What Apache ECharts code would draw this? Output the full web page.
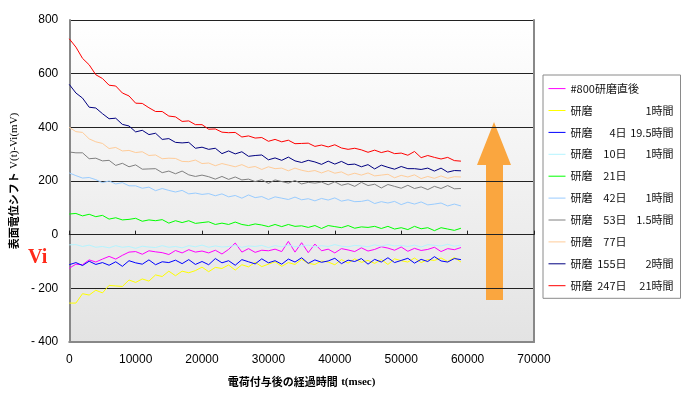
<!DOCTYPE html>
<html>
<head>
<meta charset="utf-8">
<script src="https://cdn.jsdelivr.net/npm/echarts@6/dist/echarts.min.js"></script>
<style>
html,body{margin:0;padding:0;background:#fff;}
#chart{width:684px;height:393px;}
</style>
</head>
<body>
<div id="chart"></div>
<script>
// time axis (msec)
const times = [0,1000,2000,3000,4000,5000,6000,7000,8000,9000,
  10000,11000,12000,13000,14000,15000,16000,17000,18000,19000,
  20000,21000,22000,23000,24000,25000,26000,27000,28000,29000,
  30000,31000,32000,33000,34000,35000,36000,37000,38000,39000,
  40000,41000,42000,43000,44000,45000,46000,47000,48000,49000,
  50000,51000,52000,53000,54000,55000,56000,57000,58000,59000];

// legend label parts: [prefix, days, hours]
const labelMain = ['#800研磨直後','研磨','研磨','研磨','研磨','研磨','研磨','研磨','研磨','研磨'];
const labelDays = ['','','4日','10日','21日','42日','53日','77日','155日','247日'];
const labelHours = ['','1時間','19.5時間','1時間','','1時間','1.5時間','','2時間','21時間'];
const lineColors = ['#ff00ff','#ffff00','#0000ff','#b4f4ff','#00ff00','#99ccff','#808080','#ffcc99','#000080','#ff0000'];

const xTicks = [0,10000,20000,30000,40000,50000,60000,70000];
const yTicks = [-400,-200,0,200,400,600,800];

// series values (mV)
const s800 = [-125,-110,-112,-94,-102,-91,-81,-91,-77,-65,
  -63,-73,-60,-64,-67,-74,-59,-68,-56,-65,
  -61,-68,-58,-72,-55,-31,-65,-52,-66,-58,
  -60,-54,-63,-25,-65,-30,-67,-35,-60,-54,
  -68,-52,-57,-63,-49,-61,-55,-45,-50,-58,
  -46,-62,-51,-59,-55,-47,-63,-52,-56,-48];
const s1h = [-255,-255,-220,-225,-207,-217,-189,-191,-193,-169,
  -178,-165,-173,-150,-156,-136,-153,-136,-142,-134,
  -121,-138,-122,-126,-113,-132,-112,-120,-103,-119,
  -110,-101,-118,-104,-111,-92,-107,-111,-98,-102,
  -112,-93,-106,-90,-103,-96,-107,-93,-111,-90,
  -97,-102,-87,-104,-93,-96,-87,-100,-85,-102];
const s4d = [-112,-104,-115,-99,-111,-104,-114,-101,-118,-97,
  -105,-110,-94,-112,-101,-104,-95,-108,-93,-111,
  -100,-112,-89,-105,-97,-114,-93,-101,-109,-90,
  -105,-97,-110,-91,-102,-86,-107,-94,-103,-98,
  -88,-108,-95,-100,-89,-110,-92,-102,-86,-104,
  -96,-88,-106,-92,-100,-82,-98,-102,-89,-93];
const s10d = [-38,-37,-44,-39,-47,-44,-49,-41,-47,-44,
  -51,-43,-46,-48,-41,-47,-44,-49,-41,-45,
  -39,-47,-42,-46,-44,-40,-47,-42,-44,-40,
  -48,-41,-45,-39,-45,-42,-39,-46,-41,-44,
  -37,-43,-45,-40,-42,-45,-38,-43,-37,-42,
  -40,-44,-39,-46,-37,-40,-42,-36,-43,-39];
const s21d = [77,79,70,76,67,72,58,63,55,57,
  61,50,55,52,56,43,52,45,52,42,
  45,48,38,43,38,47,38,34,40,36,
  30,38,30,38,31,33,27,34,23,34,
  30,26,34,24,29,27,31,23,31,21,
  26,19,31,22,26,15,26,21,16,24];
const s42d = [230,220,211,213,205,194,200,189,194,182,
  182,173,177,164,172,165,159,165,152,155,
  150,153,145,152,141,146,136,148,138,142,
  131,141,136,131,140,130,134,126,135,129,
  137,125,130,123,124,129,116,123,118,124,
  112,121,114,122,111,114,118,107,114,107];
const s53d = [308,305,305,283,285,275,277,258,266,253,
  260,244,245,246,231,237,227,237,223,217,
  222,216,207,217,206,215,204,207,198,205,
  191,204,198,192,202,189,195,192,196,186,
  197,184,190,180,195,183,188,174,187,180,
  173,184,172,178,168,180,172,183,171,172];
const s77d = [400,384,381,357,346,340,321,325,312,314,
  306,309,295,297,283,285,284,273,272,278,
  265,267,257,265,259,253,261,250,254,243,
  253,246,248,238,248,240,235,239,230,239,
  229,234,222,229,222,230,219,222,225,212,
  221,215,223,209,217,210,219,210,216,215];
const s155d = [560,528,509,475,472,451,432,434,411,405,
  383,389,373,378,355,358,344,342,344,322,
  326,318,322,302,312,301,309,292,295,297,
  279,286,277,289,275,269,277,271,262,274,
  263,273,261,263,253,261,245,259,251,244,
  254,246,246,243,248,237,248,233,239,238];
const s247d = [730,699,657,633,596,582,557,554,528,517,
  490,489,473,459,459,442,439,422,424,410,
  410,393,394,382,380,381,364,368,360,362,
  348,355,346,352,339,340,341,329,334,327,
  335,323,318,322,316,307,315,306,312,302,
  304,296,310,287,295,288,282,288,276,274];

const allValues = [s800,s1h,s4d,s10d,s21d,s42d,s53d,s77d,s155d,s247d];
const names = labelMain.map((m,i)=> [m,labelDays[i],labelHours[i]].filter(Boolean).join(' '));

const chart = echarts.init(document.getElementById('chart'), null, {renderer:'canvas'});

const series = allValues.map((vals,i)=>({
  name: names[i],
  type: 'line',
  xAxisIndex: 0,
  yAxisIndex: 0,
  symbol: 'none',
  showSymbol: false,
  silent: true,
  lineStyle: {color: lineColors[i], width: 1},
  itemStyle: {color: lineColors[i]},
  data: times.map((t,k)=>[t, vals[k]])
}));

const jp = 'Noto Sans CJK JP';

chart.setOption({
  animation: false,
  backgroundColor: '#ffffff',
  grid: {
    left: 62, top: 20, right: 150, bottom: 51,
    show: true, borderWidth: 0,
    backgroundColor: new echarts.graphic.LinearGradient(0,0,0,1,[
      {offset:0,color:'#ffffff'},{offset:1,color:'#e3e3e3'}])
  },
  legend: {
    orient: 'vertical',
    left: 543, top: 75,
    padding: [8,7,7,5],
    itemWidth: 17, itemHeight: 14, itemGap: 10.7,
    backgroundColor: '#ffffff',
    borderColor: '#8a8a8a', borderWidth: 1,
    itemStyle: {opacity: 0, color: 'transparent', borderWidth: 0},
    lineStyle: {width: 1},
    data: names,
    formatter: function(name){
      const i = names.indexOf(name);
      if (i === 0) return '{w|' + labelMain[i] + '}';
      return '{a|' + labelMain[i] + '}{b|' + labelDays[i] + '}{c|' + labelHours[i] + '}';
    },
    textStyle: {
      fontFamily: jp, fontSize: 11, color: '#111',
      rich: {
        w: {fontFamily: jp, fontSize: 11, color:'#111'},
        a: {fontFamily: jp, fontSize: 11, color:'#111', width: 24},
        b: {fontFamily: jp, fontSize: 11, color:'#111', width: 32, align: 'right'},
        c: {fontFamily: jp, fontSize: 11, color:'#111', width: 47, align: 'right'}
      }
    }
  },
  xAxis: [{
    type: 'value',
    min: xTicks[0], max: xTicks[xTicks.length-1], interval: 10000,
    position: 'bottom',
    axisLine: {show: true, onZero: false, lineStyle: {color: '#888', width: 2}},
    axisTick: {show: false},
    splitLine: {show: false},
    axisLabel: {margin: 12, color: '#000', fontFamily: 'Liberation Sans', fontSize: 12,
      formatter: v => String(v)},
    name: '{j|電荷付与後の経過時間} {s|t(msec)}',
    nameLocation: 'middle',
    nameGap: 34,
    nameTextStyle: {
      rich: {
        j: {fontFamily: jp, fontSize: 11, fontWeight: 'bold', color: '#000'},
        s: {fontFamily: 'Liberation Serif', fontSize: 11, fontWeight: 'bold', color: '#000'}
      }
    }
  },{
    type: 'value',
    min: xTicks[0], max: xTicks[xTicks.length-1], interval: 10000,
    position: 'bottom',
    axisLine: {show: true, onZero: true, lineStyle: {color: '#222', width: 1}},
    axisTick: {show: true, inside: true, length: 4, lineStyle: {color: '#222'}},
    axisLabel: {show: false},
    splitLine: {show: false}
  }],
  yAxis: [{
    type: 'value',
    min: yTicks[0], max: yTicks[yTicks.length-1], interval: 200,
    axisLine: {show: true, onZero: false, lineStyle: {color: '#888', width: 2}},
    axisTick: {show: false},
    splitLine: {show: true, lineStyle: {color: '#222', width: 1}},
    axisLabel: {
      margin: 11, color: '#000', fontFamily: 'Liberation Sans', fontSize: 12,
      formatter: v => v < 0 ? '- ' + Math.abs(v) : String(v)
    },
    name: '{j|表面電位シフト} {s|V(t)-Vi(mV)}',
    nameLocation: 'middle',
    nameGap: 40,
    nameTextStyle: {
      rich: {
        j: {fontFamily: jp, fontSize: 11, fontWeight: 'bold', color: '#000'},
        s: {fontFamily: 'Liberation Serif', fontSize: 11, color: '#000'}
      }
    }
  },{
    type: 'value',
    position: 'right',
    min: yTicks[0], max: yTicks[yTicks.length-1], interval: 200,
    axisLine: {show: true, onZero: false, lineStyle: {color: '#888', width: 2}},
    axisTick: {show: false},
    axisLabel: {show: false},
    splitLine: {show: false}
  }],
  series: series,
  graphic: [
    {
      type: 'polygon',
      silent: true,
      shape: {points: [[486,300],[503,300],[503,165],[511,165],[494,122],[477,165],[486,165]]},
      style: {fill: '#faa63f'}
    },
    {
      type: 'text',
      left: 28, top: 248,
      silent: true,
      style: {text: 'Vi', fill: '#ff2a1a', font: 'bold 20px "Liberation Serif"'}
    }
  ]
});
</script>
</body>
</html>
